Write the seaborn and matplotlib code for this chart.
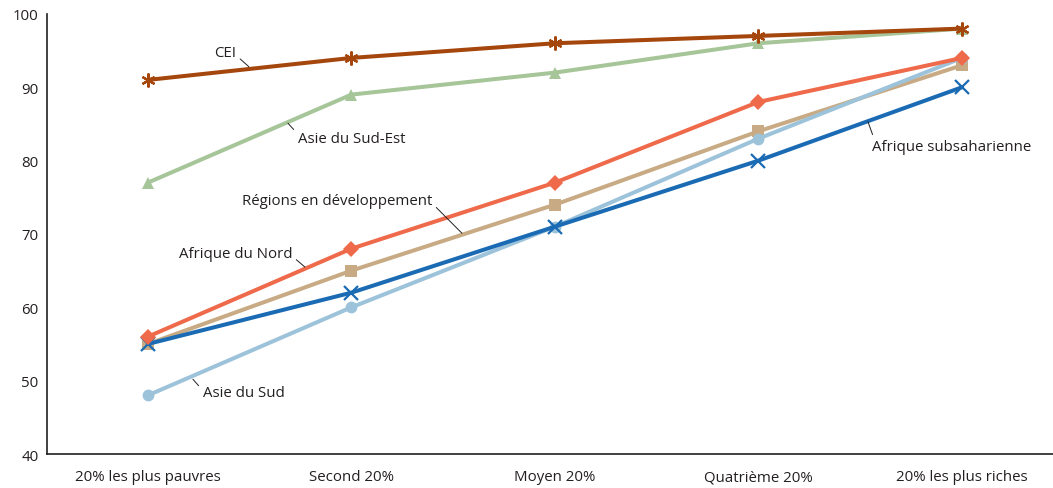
import matplotlib
matplotlib.use("Agg")
import matplotlib.pyplot as plt
import seaborn as sns
import pandas as pd

# quintiles de revenu
quintiles = ["20% les plus pauvres", "Second 20%", "Moyen 20%", "Quatrième 20%", "20% les plus riches"]

cei = [91, 94, 96, 97, 98]
asie_sud_est = [77, 89, 92, 96, 98]
afrique_nord = [56, 68, 77, 88, 94]
regions_dev = [55, 65, 74, 84, 93]
afrique_subsah = [55, 62, 71, 80, 90]
asie_sud = [48, 60, 71, 83, 94]

series = [
    ("Régions en développement", regions_dev, "#C8AB84", "s"),
    ("Asie du Sud", asie_sud, "#9DC3DB", "o"),
    ("Afrique subsaharienne", afrique_subsah, "#1A6BB4", "x"),
    ("Afrique du Nord", afrique_nord, "#EF6A4A", "D"),
    ("Asie du Sud-Est", asie_sud_est, "#A6C598", "^"),
    ("CEI", cei, "#A5460D", (6, 2, 0)),
]

sns.set_style("white")
plt.rcParams["font.family"] = ["Open Sans", "DejaVu Sans"]

fig = plt.figure(figsize=(10.53, 4.89), dpi=100)
ax = fig.add_axes([0.0446, 0.0695, 0.9554, 0.9])

for name, vals, col, mk in series:
    df = pd.DataFrame({"x": range(len(quintiles)), "y": vals})
    big = mk in ("x", (6, 2, 0))
    sns.lineplot(data=df, x="x", y="y", ax=ax, color=col, linewidth=2.9,
                 marker=mk, markersize=10 if big else 8.5,
                 markeredgecolor=col, markeredgewidth=1.6 if big else 0,
                 markerfacecolor=col)

ax.set_xlim(-0.496, 4.447)
ax.set_ylim(40, 100)
ax.set_xticks(range(len(quintiles)))
ax.set_xticklabels(quintiles)
ax.set_yticks(range(40, 101, 10))
ax.set_xlabel("")
ax.set_ylabel("")
ax.tick_params(axis="both", length=0, labelsize=10.8, colors="#231F20")
ax.tick_params(axis="x", pad=11)
ax.tick_params(axis="y", pad=6)
for s in ["top", "right"]:
    ax.spines[s].set_visible(False)
for s in ["left", "bottom"]:
    ax.spines[s].set_color("#231F20")
    ax.spines[s].set_linewidth(1.2)

# étiquettes avec traits de rappel
lab_kw = dict(fontsize=10.8, color="#231F20", va="center")
arr = dict(arrowstyle="-", color="#231F20", lw=0.7, shrinkA=1, shrinkB=0)
ax.annotate("CEI", xy=(0.496, 92.8), xytext=(0.432, 94.8), ha="right",
            arrowprops=dict(arr, relpos=(1, 0.3)), **lab_kw)
ax.annotate("Asie du Sud-Est", xy=(0.688, 85.1), xytext=(0.737, 83.0), ha="left",
            arrowprops=dict(arr, relpos=(0, 0.8)), **lab_kw)
ax.annotate("Régions en développement", xy=(1.543, 70.1), xytext=(1.396, 74.6), ha="right",
            arrowprops=dict(arr, relpos=(1, 0.3)), **lab_kw)
ax.annotate("Afrique du Nord", xy=(0.771, 65.5), xytext=(0.708, 67.4), ha="right",
            arrowprops=dict(arr, relpos=(1, 0.3)), **lab_kw)
ax.annotate("Asie du Sud", xy=(0.221, 50.2), xytext=(0.270, 48.45), ha="left",
            arrowprops=dict(arr, relpos=(0, 0.6)), **lab_kw)
ax.annotate("Afrique subsaharienne", xy=(3.538, 85.3), xytext=(3.558, 81.9), ha="left",
            arrowprops=dict(arr, relpos=(0.02, 0.8)), **lab_kw)

fig.savefig("out.png", dpi=100)
